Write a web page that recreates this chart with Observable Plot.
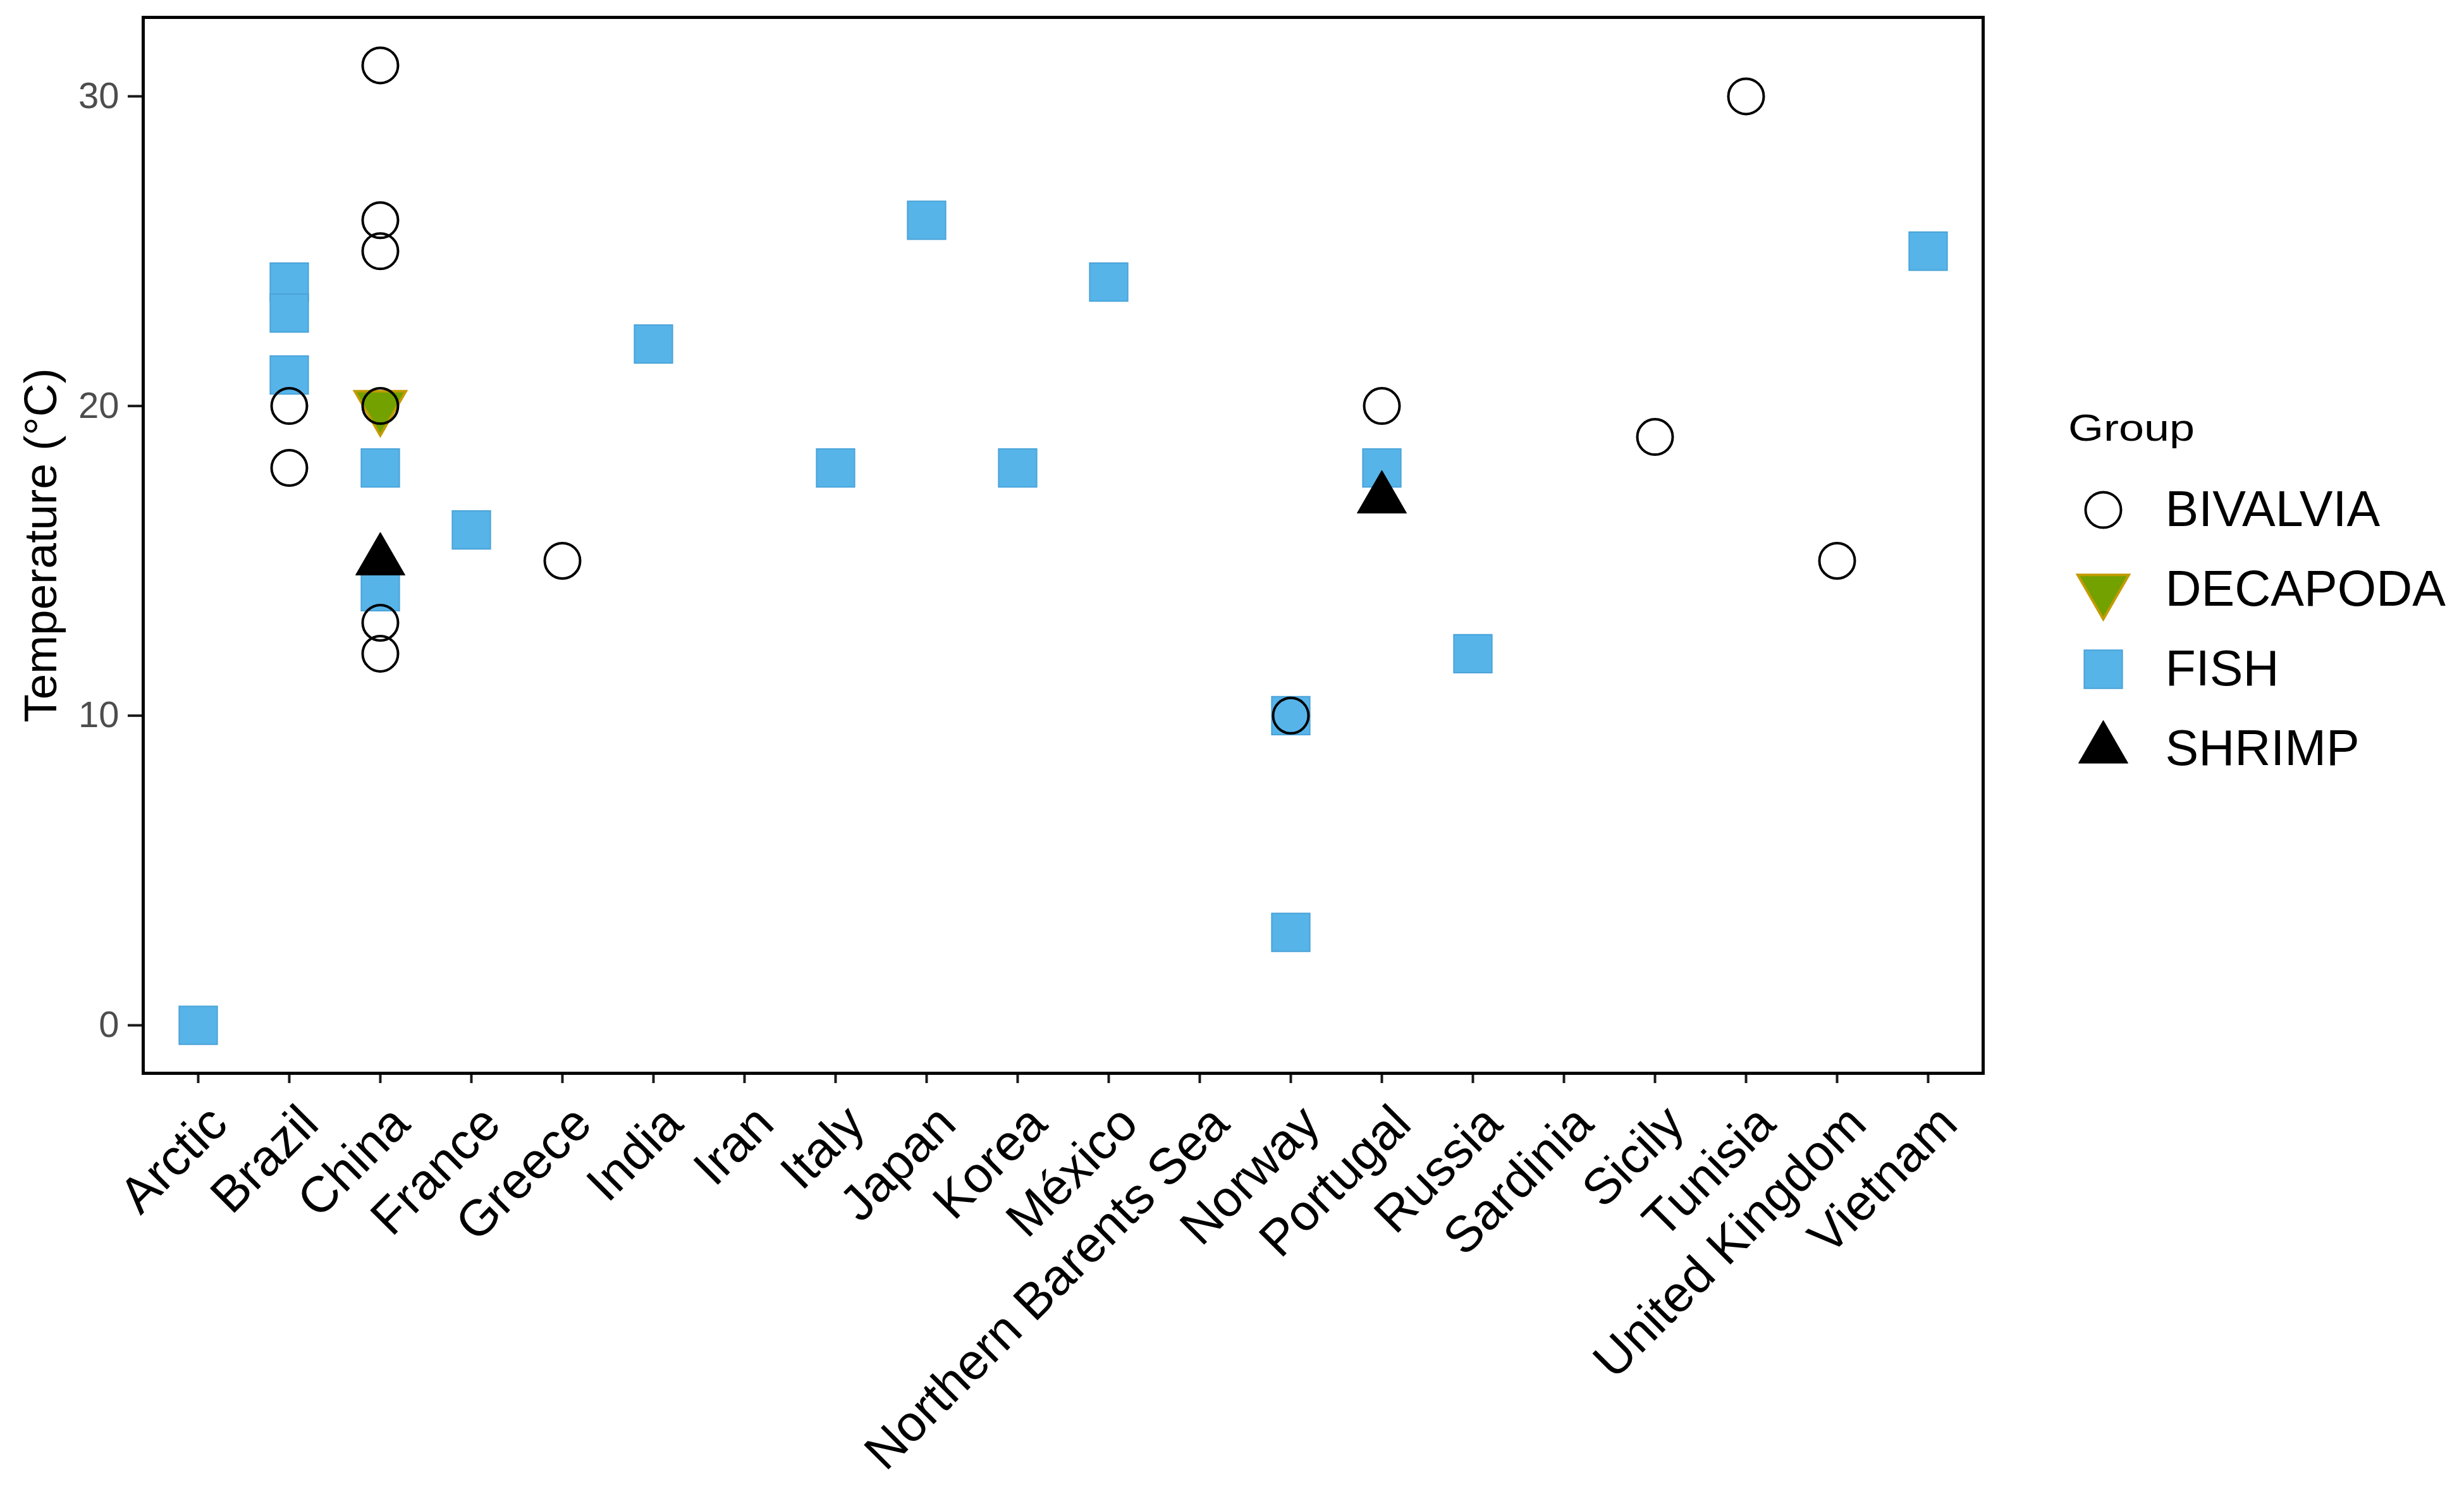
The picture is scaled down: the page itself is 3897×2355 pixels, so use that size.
<!DOCTYPE html>
<html><head><meta charset="utf-8">
<script src="https://cdn.jsdelivr.net/npm/d3@7"></script>
<script src="https://cdn.jsdelivr.net/npm/@observablehq/plot@0.6"></script>
<style>
html,body{margin:0;padding:0;background:#fff;}
#wrap{position:relative;width:3897px;height:2355px;overflow:hidden;font-family:"Liberation Sans",Arial,sans-serif;background:#fff;}
#main{position:absolute;left:0;top:0;}
#legend{position:absolute;left:3200px;top:0;}
#ltitle{position:absolute;left:3271px;top:647px;font-size:60px;line-height:1;color:#000;transform:scaleX(1.2);transform-origin:0 0;}
</style></head><body>
<div id="wrap"><div id="main"></div><div id="legend"></div><div id="ltitle">Group</div></div>
<script>
const countries = ["Arctic","Brazil","China","France","Greece","India","Iran","Italy","Japan","Korea","México","Northern Barents Sea","Norway","Portugal","Russia","Sardinia","Sicily","Tunisia","United Kingdom","Vietnam"];
const groups = ["BIVALVIA","DECAPODA","FISH","SHRIMP"];
const yTicks = [0, 10, 20, 30];

const bivalviaCountry = ["Brazil","Brazil","China","China","China","China","China","China","Greece","Norway","Portugal","Sicily","Tunisia","United Kingdom"];
const bivalviaTemp    = [20, 18, 31, 26, 25, 20, 13, 12, 15, 10, 20, 19, 30, 15];

const decapodaCountry = ["China"];
const decapodaTemp    = [20];

const fishCountry = ["Arctic","Brazil","Brazil","Brazil","China","China","France","India","Italy","Japan","Korea","México","Norway","Norway","Portugal","Russia","Vietnam"];
const fishTemp    = [0, 24, 23, 21, 18, 14, 16, 22, 18, 26, 18, 24, 10, 3, 18, 12, 25];

const shrimpCountry = ["China","Portugal"];
const shrimpTemp    = [15, 17];

const rows = (cs, ts, g) => cs.map((c, i) => ({country: c, temp: ts[i], group: g}));
const bivalvia = rows(bivalviaCountry, bivalviaTemp, "BIVALVIA");
const decapoda = rows(decapodaCountry, decapodaTemp, "DECAPODA");
const fish = rows(fishCountry, fishTemp, "FISH");
const shrimp = rows(shrimpCountry, shrimpTemp, "SHRIMP");

const styles = {
  FISH: {symbol: "square", r: 34, fill: "#56B4E9", stroke: "#4AA3D8", strokeWidth: 2},
  DECAPODA: {symbol: "triangle", rotate: 180, r: 30, fill: "#72A100", stroke: "#C29B00", strokeWidth: 4},
  SHRIMP: {symbol: "triangle", r: 29, fill: "#000000", stroke: "#000000", strokeWidth: 1},
  BIVALVIA: {symbol: "circle", r: 28, fill: "none", stroke: "#000000", strokeWidth: 4}
};

const font = "Liberation Sans, Arial, sans-serif";
const main = Plot.plot({
  width: 3200, height: 2355,
  marginLeft: 226, marginRight: 64, marginTop: 27, marginBottom: 658,
  style: {fontFamily: font, background: "white", overflow: "visible"},
  x: {type: "point", domain: countries, padding: 0.6},
  y: {domain: [-1.55, 32.55]},
  marks: [
    Plot.axisY({ticks: yTicks, tickSize: 24, tickPadding: 14, fontSize: 58, fill: "#4d4d4d", stroke: "#1a1a1a", strokeWidth: 4, label: null}),
    Plot.axisX({tickSize: 16, tickFormat: () => "", stroke: "#1a1a1a", strokeWidth: 4, label: null}),
    Plot.axisX({tickSize: 0, tickPadding: 26, tickRotate: -45, fontSize: 80, dx: 32, dy: 40, fill: "#000", label: null}),
    Plot.text(["Temperature (°C)"], {frameAnchor: "left", textAnchor: "middle", rotate: -90, dx: -161, fontSize: 73, fill: "#000"}),
    Plot.dot(fish, {x: "country", y: "temp", ...styles.FISH}),
    Plot.dot(decapoda, {x: "country", y: "temp", ...styles.DECAPODA}),
    Plot.dot(shrimp, {x: "country", y: "temp", ...styles.SHRIMP}),
    Plot.dot(bivalvia, {x: "country", y: "temp", ...styles.BIVALVIA}),
    Plot.frame({stroke: "#000", strokeWidth: 5})
  ]
});
document.getElementById("main").appendChild(main);

const legend = Plot.plot({
  width: 697, height: 2355, margin: 0,
  style: {fontFamily: font, background: "transparent", overflow: "visible"},
  x: {domain: [0, 1], range: [126, 226], axis: null},
  y: {type: "point", domain: groups, range: [806, 1184], padding: 0, axis: null},
  marks: [
    ...groups.map(g => Plot.dot([g], {x: () => 0, y: d => d, ...styles[g]})),
    Plot.text(groups, {x: () => 0, y: d => d, dx: 98, textAnchor: "start", fontSize: 79, fill: "#000"})
  ]
});
document.getElementById("legend").appendChild(legend);
</script>
</body></html>
